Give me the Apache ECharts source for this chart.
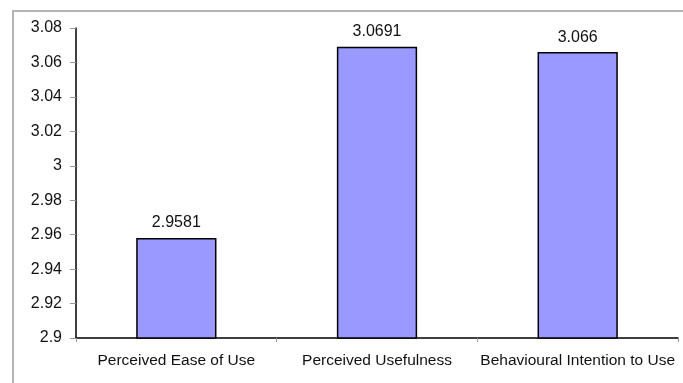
<!DOCTYPE html>
<html>
<head>
<meta charset="utf-8">
<script src="https://cdn.jsdelivr.net/npm/echarts@6/dist/echarts.min.js"></script>
<style>
html,body{margin:0;padding:0;background:#fff;}
#frame{position:absolute;left:12px;top:10px;width:700px;height:400px;border:2px solid #b4b4b4;box-sizing:border-box;}
#c{position:absolute;left:0;top:0;width:683px;height:383px;}
</style>
</head>
<body>
<div id="frame"></div>
<div id="c"></div>
<script>
var categories = ['Perceived Ease of Use', 'Perceived Usefulness', 'Behavioural Intention to Use'];
var values = [2.9581, 3.0691, 3.066];
var yTicks = ['2.9', '2.92', '2.94', '2.96', '2.98', '3', '3.02', '3.04', '3.06', '3.08'];

var chart = echarts.init(document.getElementById('c'), null, {renderer: 'canvas'});
chart.setOption({
  animation: false,
  grid: {left: 76, right: 5, top: 28, bottom: 45, containLabel: false},
  xAxis: {
    type: 'category',
    data: categories,
    axisLine: {lineStyle: {color: '#000', width: 1.5}},
    axisTick: {show: true, length: 4, lineStyle: {color: '#999'}},
    axisLabel: {color: '#111', fontFamily: 'Liberation Sans, Arial', fontSize: 15.5, margin: 15, interval: 0},
    splitLine: {show: false}
  },
  yAxis: {
    type: 'value',
    min: 2.9,
    max: 3.08,
    interval: 0.02,
    axisLine: {show: true, lineStyle: {color: '#000', width: 1.5}},
    axisTick: {show: true, length: 6, lineStyle: {color: '#999'}},
    axisLabel: {
      color: '#111', fontFamily: 'Liberation Sans, Arial', fontSize: 16, margin: 14,
      formatter: function (v) {
        var idx = Math.round((v - 2.9) / 0.02);
        return yTicks[idx] !== undefined ? yTicks[idx] : '';
      }
    },
    splitLine: {show: false}
  },
  series: [{
    type: 'bar',
    data: values,
    barWidth: '40%',
    itemStyle: {color: '#9999FF', borderColor: '#000', borderWidth: 1.5},
    label: {
      show: true, position: 'top', distance: 7,
      color: '#111', fontFamily: 'Liberation Sans, Arial', fontSize: 16,
      formatter: function (p) { return String(p.value); }
    }
  }]
});
</script>
</body>
</html>
